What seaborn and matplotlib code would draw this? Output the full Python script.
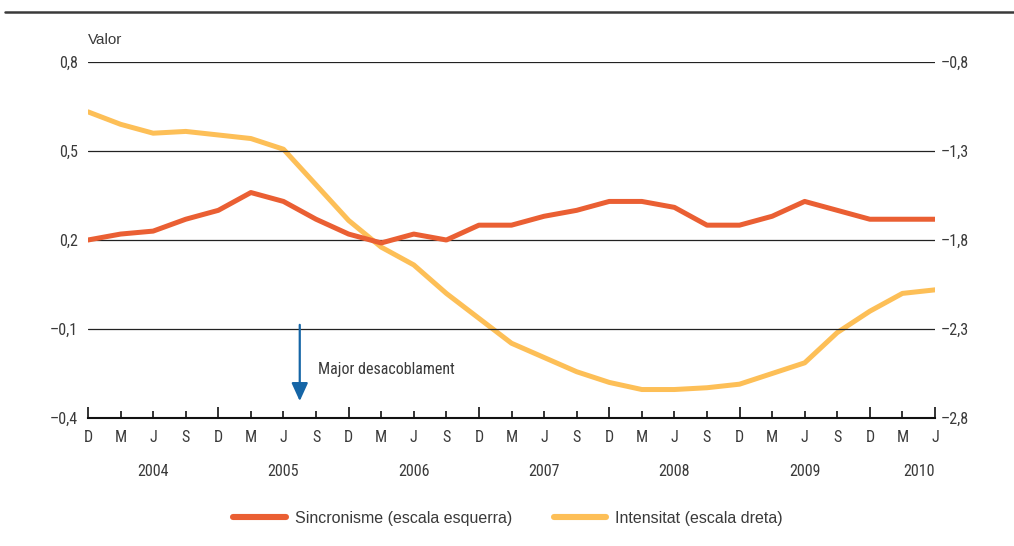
import numpy as np
import pandas as pd
import matplotlib
matplotlib.use("Agg")
import matplotlib.pyplot as plt
import matplotlib.transforms as mtransforms
from matplotlib.lines import Line2D
import seaborn as sns


# Dades (trimestres de desembre 2003 a juny 2010)
periodes = ["D", "M", "J", "S"] * 6 + ["D", "M", "J"]
sincronisme = [0.20, 0.22, 0.23, 0.27, 0.30, 0.36, 0.33, 0.27, 0.22, 0.19,
               0.22, 0.20, 0.25, 0.25, 0.28, 0.30, 0.33, 0.33, 0.31, 0.25,
               0.25, 0.28, 0.33, 0.30, 0.27, 0.27, 0.27]
intensitat = [-1.08, -1.15, -1.20, -1.19, -1.21, -1.23, -1.29, -1.49, -1.69,
              -1.84, -1.94, -2.10, -2.24, -2.38, -2.46, -2.54, -2.60, -2.64,
              -2.64, -2.63, -2.61, -2.55, -2.49, -2.32, -2.20, -2.10, -2.08]
anys = ["2004", "2005", "2006", "2007", "2008", "2009", "2010"]
anys_pos = [2, 6, 10, 14, 18, 22, 25.5]

esq_ticks = [-0.4, -0.1, 0.2, 0.5, 0.8]
esq_labels = ["\u20130,4", "\u20130,1", "0,2", "0,5", "0,8"]
dre_ticks = [-2.8, -2.3, -1.8, -1.3, -0.8]
dre_labels = ["\u20132,8", "\u20132,3", "\u20131,8", "\u20131,3", "\u20130,8"]

df = pd.DataFrame({
    "t": np.arange(len(periodes)),
    "sincronisme": sincronisme,
    "intensitat": intensitat,
})

sns.set_style("white")
narrow = ["Roboto Condensed", "DejaVu Sans"]
regular = ["Liberation Sans", "DejaVu Sans"]
plt.rcParams["font.family"] = narrow

VERMELL = "#EA5F33"
GROC = "#FDBF57"
TEXT = "#3a3a3a"

W, H = 1014, 546
fig = plt.figure(figsize=(W / 100, H / 100), dpi=100)
ax = fig.add_axes([88 / W, 128 / H, 847 / W, 356 / H])
ax2 = ax.twinx()

sns.lineplot(data=df, x="t", y="sincronisme", ax=ax, color=VERMELL,
             linewidth=3.6, zorder=4)
sns.lineplot(data=df, x="t", y="intensitat", ax=ax2, color=GROC,
             linewidth=3.6, zorder=3)
ax.set_zorder(ax2.get_zorder() + 1)
ax.patch.set_visible(False)

ax.set_xlim(0, len(periodes) - 1)
ax.set_ylim(-0.4, 0.8)
ax2.set_ylim(-2.8, -0.8)

for a in (ax, ax2):
    a.set_xlabel("")
    a.set_ylabel("")
    for s in ("left", "right", "top"):
        a.spines[s].set_visible(False)
ax.spines["bottom"].set_color("#111111")
ax.spines["bottom"].set_linewidth(1.5)
ax2.spines["bottom"].set_visible(False)

# línies horitzontals
for v in esq_ticks[1:]:
    ax.axhline(v, color="#222222", linewidth=0.9, zorder=1)

# eix y
ax.set_yticks(esq_ticks, esq_labels)
ax2.set_yticks(dre_ticks, dre_labels)
ax.tick_params(axis="y", left=False, length=0, pad=7, labelsize=11.5,
               labelcolor=TEXT)
ax2.tick_params(axis="y", right=False, length=0, pad=4, labelsize=11.5,
                labelcolor=TEXT)

# eix x: ticks llargs al desembre i al final, curts a la resta
llargs = [i for i in range(len(periodes)) if i % 4 == 0] + [len(periodes) - 1]
curts = [i for i in range(len(periodes)) if i not in llargs]
ax.set_xticks(llargs, [periodes[i] for i in llargs])
ax.set_xticks(curts, [periodes[i] for i in curts], minor=True)
ax.tick_params(axis="x", which="major", bottom=True, direction="in", length=8,
               width=1.2, color="#111111", pad=9, labelsize=11.5,
               labelcolor=TEXT)
ax.tick_params(axis="x", which="minor", bottom=True, direction="in", length=5,
               width=1.2, color="#111111", pad=9, labelsize=11.5,
               labelcolor=TEXT)

trans = mtransforms.blended_transform_factory(ax.transData, ax.transAxes)
for label, pos in zip(anys, anys_pos):
    ax.text(pos, -54 / 356, label, transform=trans, ha="center", va="center",
            fontsize=11.5, color=TEXT)

# fletxa
ax.annotate("", xy=(6.5, -0.343), xytext=(6.5, -0.086),
            arrowprops=dict(arrowstyle="-|>,head_length=0.55,head_width=0.25",
                            color="#1565a6", lw=1.6, mutation_scale=20,
                            shrinkA=0, shrinkB=0), zorder=6)
ax.text(7.06, -0.238, "Major desacoblament", ha="left", va="center",
        fontsize=11.5, color=TEXT)

# línia superior i títol de l'eix
fig.add_artist(Line2D([5 / W, 1.0], [1 - 12 / H] * 2, transform=fig.transFigure,
                      color="#3a3a3a", linewidth=1.8))
fig.text(88 / W, 1 - 40 / H, "Valor", ha="left", va="center", fontsize=11,
         color=TEXT, family=regular)

handles = [Line2D([], [], color=VERMELL, linewidth=4.4),
           Line2D([], [], color=GROC, linewidth=4.4)]
fig.legend(handles, ["Sincronisme (escala esquerra)", "Intensitat (escala dreta)"],
           loc="center", bbox_to_anchor=(508 / W, 28 / H), ncol=2, frameon=False,
           handlelength=3.3, handletextpad=0.55, columnspacing=2.6,
           prop={"family": regular, "size": 11.5}, labelcolor=TEXT)

fig.savefig("out.png", dpi=100)
